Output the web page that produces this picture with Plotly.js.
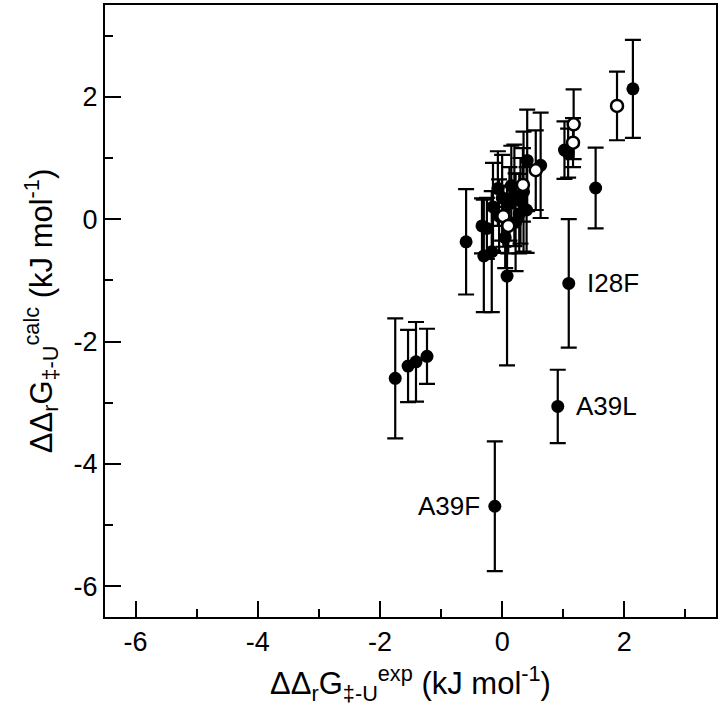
<!DOCTYPE html>
<html>
<head>
<meta charset="utf-8">
<script src="https://cdn.plot.ly/plotly-3.0.1.min.js"></script>
<style>html,body{margin:0;padding:0;background:#fff}</style>
</head>
<body>
<div id="chart" style="width:720px;height:713px"></div>
<script>
// filled markers (black)
var filledX = [-1.75, -1.54, -1.41, -1.23, -0.59, -0.33, -0.30, -0.17, 0.08, -0.07,
               -0.15, 0.28, 0.20, 0.41, 0.63, 0.30, 0.12, 0.00, -0.05, 0.22,
               0.35, 0.15, 1.02, 1.08, 1.53, 2.14, 1.09, 0.91, -0.12, -0.25,
               0.40, 0.05]
var filledY = [-2.60, -2.40, -2.33, -2.24, -0.37, -0.11, -0.60, -0.53, -0.93, 0.50,
               0.20, 0.09, 0.39, 0.96, 0.88, 0.30, 0.25, 0.35, 0.05, -0.05,
               0.45, 0.55, 1.13, 1.08, 0.51, 2.13, -1.05, -3.06, -4.69, -0.15,
               0.15, -0.30]
var filledErr = [0.98, 0.59, 0.65, 0.45, 0.86, 0.45, 0.92, 0.99, 1.46, 0.61,
                 0.72, 0.65, 0.83, 0.83, 0.86, 0.70, 0.60, 0.70, 0.60, 0.80,
                 0.98, 0.65, 0.47, 0.40, 0.66, 0.80, 1.05, 0.60, 1.06, 0.50,
                 0.70, 0.50]

// open markers (white)
var openX = [0.02, 0.10, 0.34, 0.55, 1.16, 1.17, 1.88]
var openY = [0.05, -0.11, 0.56, 0.80, 1.25, 1.55, 1.85]
var openErr = [0.50, 0.45, 0.60, 0.65, 0.40, 0.57, 0.56]

// labelled mutants
var labelText = ['I28F', 'A39L', 'A39F']
var labelX = [1.09, 0.91, -0.12]
var labelY = [-1.05, -3.06, -4.69]
var labelLeft = [false, false, true]

// tick labels use a plain hyphen like the original
var tickVals = [-6, -4, -2, 0, 2]
var tickText = ['-6', '-4', '-2', '0', '2']

var font = 'Liberation Sans, Arial, sans-serif'

var traceFilled = {
    x: filledX,
    y: filledY,
    mode: 'markers',
    type: 'scatter',
    marker: { color: 'black', size: 13 },
    error_y: { type: 'data', array: filledErr, visible: true, color: 'black', thickness: 2.2, width: 8 },
    showlegend: false
}

var traceOpen = {
    x: openX,
    y: openY,
    mode: 'markers',
    type: 'scatter',
    marker: { color: 'white', size: 12, line: { color: 'black', width: 2.5 } },
    error_y: { type: 'data', array: openErr, visible: true, color: 'black', thickness: 2.2, width: 8 },
    showlegend: false
}

var annotations = labelText.map(function (t, i) {
    return {
        x: labelX[i], y: labelY[i], text: t,
        showarrow: false,
        xanchor: labelLeft[i] ? 'right' : 'left',
        xshift: labelLeft[i] ? -13 : 16,
        font: { family: font, size: 26, color: 'black' }
    }
})

var axisCommon = {
    range: [-6.5, 3.5],
    tickvals: tickVals,
    ticktext: tickText,
    ticks: 'inside',
    ticklen: 16,
    tickwidth: 2,
    tickcolor: 'black',
    minor: { ticks: 'inside', dtick: 1, ticklen: 8, tickwidth: 2, tickcolor: 'black' },
    showline: true,
    linecolor: 'black',
    linewidth: 2,
    mirror: true,
    showgrid: false,
    zeroline: false,
    tickfont: { family: font, size: 27, color: 'black' }
}

var layout = {
    width: 720,
    height: 713,
    margin: { l: 105, r: 4, t: 5, b: 96 },
    paper_bgcolor: 'white',
    plot_bgcolor: 'white',
    xaxis: Object.assign({}, axisCommon, {
        title: { text: 'ΔΔ<sub>r</sub>G<sub>‡-U</sub><sup>exp</sup> (kJ mol<sup>-1</sup>)',
                 font: { family: font, size: 31, color: 'black' }, standoff: 16 }
    }),
    yaxis: Object.assign({}, axisCommon, {
        title: { text: 'ΔΔ<sub>r</sub>G<sub>‡-U</sub><sup>calc</sup> (kJ mol<sup>-1</sup>)',
                 font: { family: font, size: 31, color: 'black' }, standoff: 12 }
    }),
    annotations: annotations
}

Plotly.newPlot('chart', [traceFilled, traceOpen], layout, { staticPlot: true })
</script>
</body>
</html>
